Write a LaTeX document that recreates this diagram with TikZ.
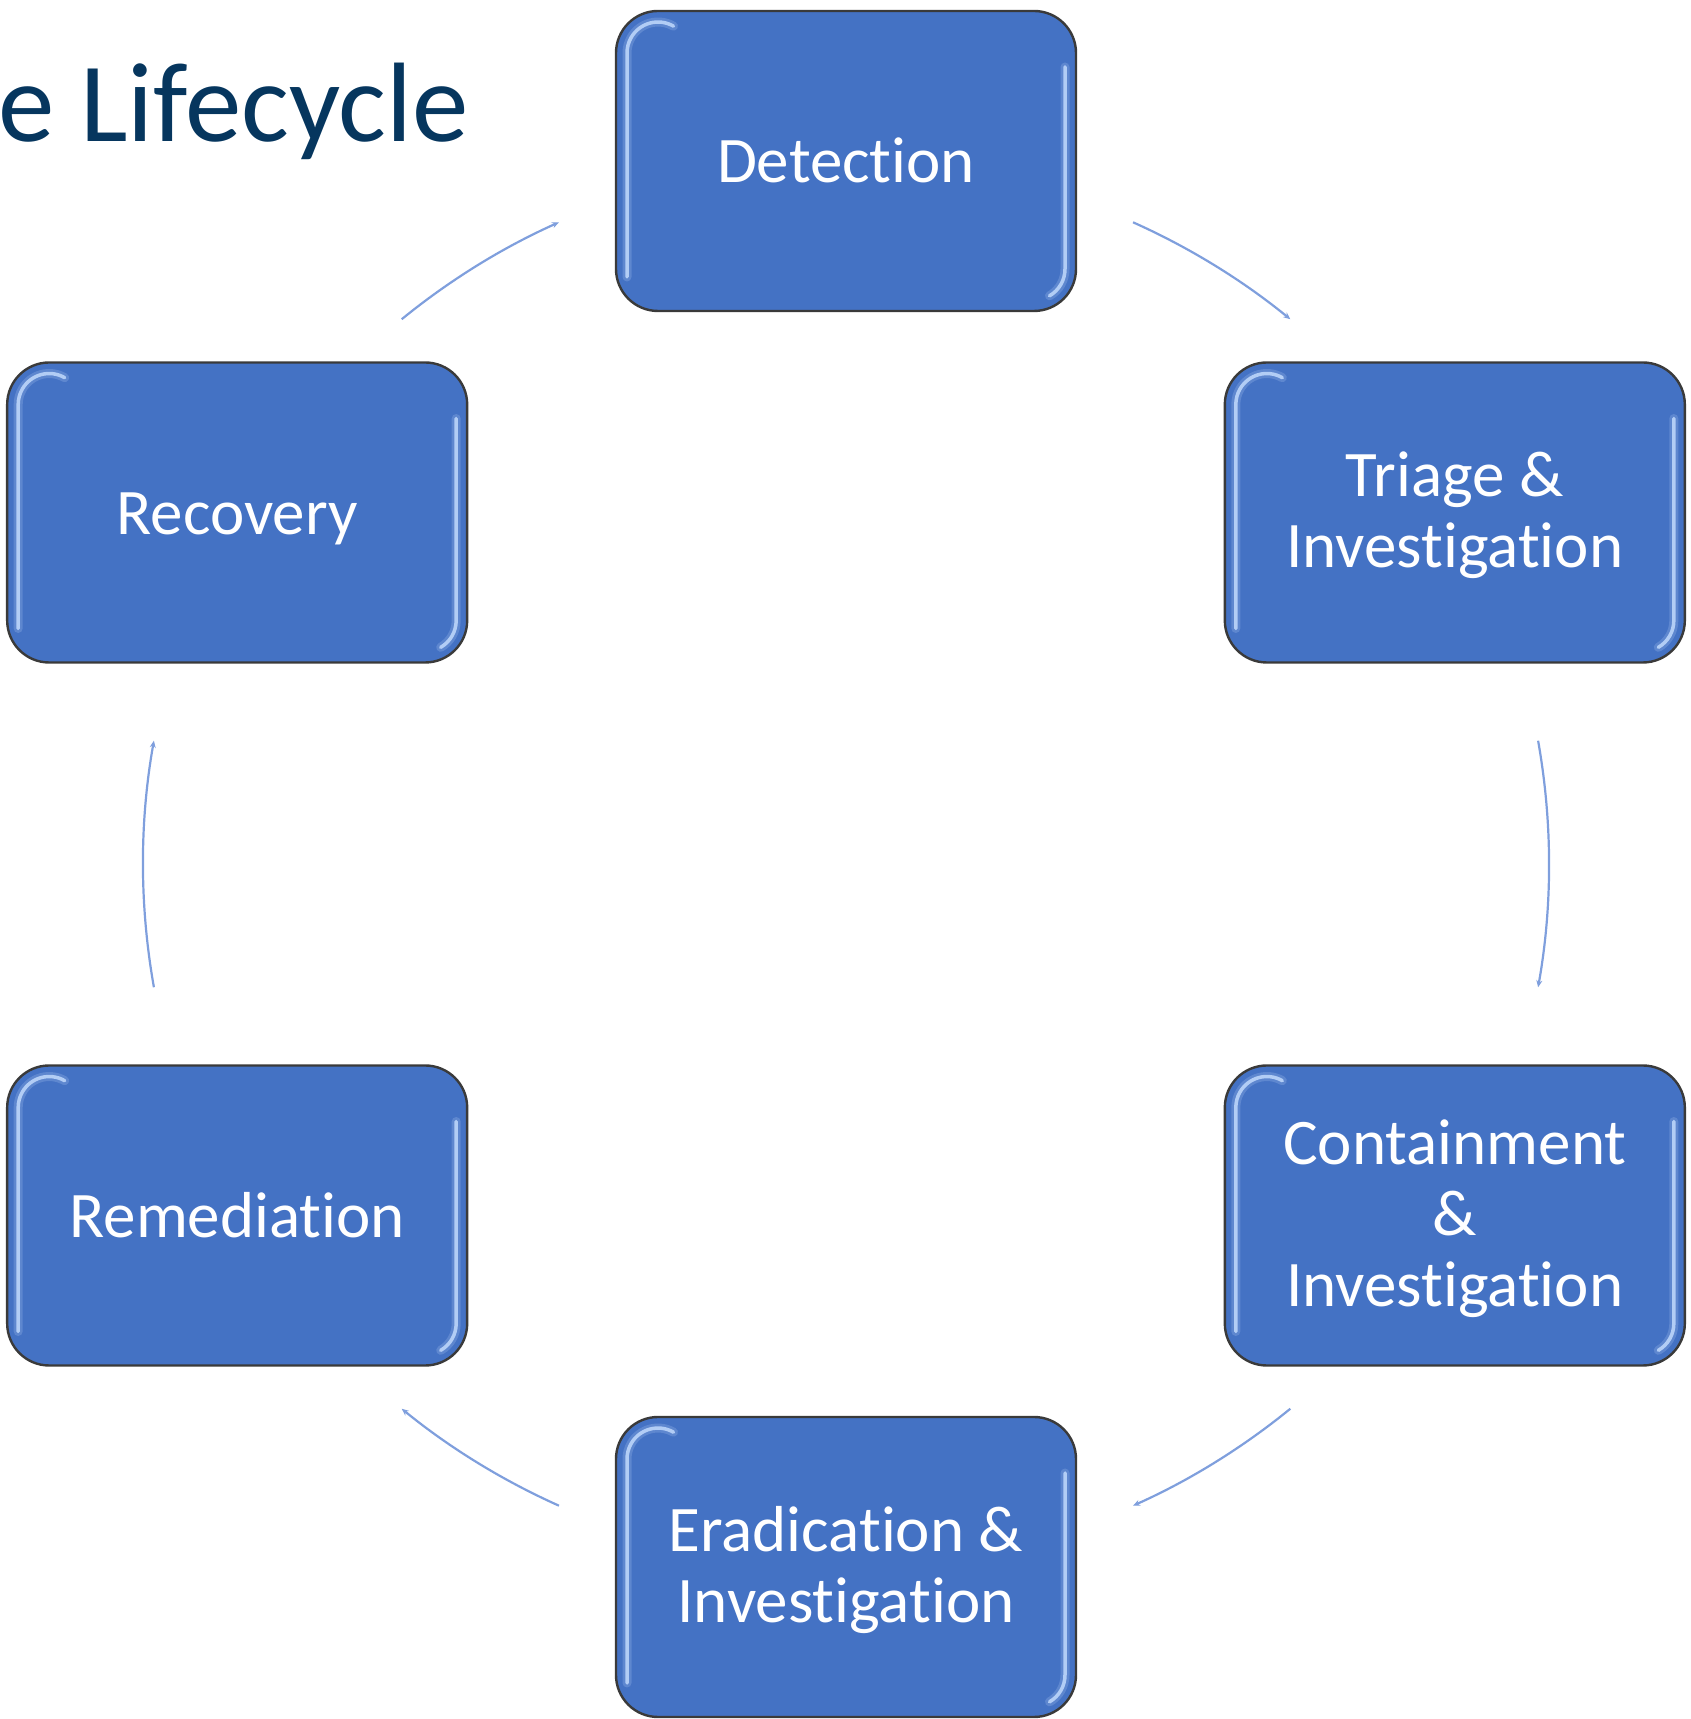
\documentclass[tikz,border=0pt]{standalone}
\usepackage{fontspec}
\setmainfont{Carlito}[Ligatures={NoCommon}]
\usetikzlibrary{arrows.meta}
\definecolor{boxblue}{HTML}{4472C4}
\definecolor{boxedge}{HTML}{3A3A3A}
\definecolor{shine}{HTML}{BCD5FA}
\definecolor{flow}{HTML}{7F9FDD}
\definecolor{titlenavy}{HTML}{06365E}
% extra room above the first line of a multi-line label
\newcommand\firstlinestrut{\rule{0pt}{56pt}}
\tikzset{
  bevel/.style={sharp corners, shine, line cap=round},
  phase/.style={draw=boxedge, line width=2.4pt, fill=boxblue, rounded corners=42pt,
    minimum width=460pt, minimum height=300pt, text=white, align=center,
    font=\fontsize{65}{71}\selectfont, inner sep=0pt, outer sep=0pt,
    execute at begin node={\rule{0pt}{60pt}},
    execute at end node={\rule[-16pt]{0pt}{0pt}},
    path picture={
      % glossy bevel along the left edge and top-left corner
      \foreach \w/\o in {9pt/.22, 3.5pt/.9}{
        \draw[bevel, line width=\w, opacity=\o]
          ([shift={(57.5pt,-15.2pt)}]path picture bounding box.north west)
          arc[start angle=60, end angle=180, radius=31pt]
          -- ([shift={(11pt,34pt)}]path picture bounding box.south west);
        % and along the right edge and bottom-right corner
        \draw[bevel, line width=\w, opacity=\o]
          ([shift={(-11pt,-56pt)}]path picture bounding box.north east)
          -- ([shift={(-11pt,42pt)}]path picture bounding box.south east)
          arc[start angle=0, end angle=-60, radius=31pt];
      }
    }},
  flowarc/.style={draw=flow, line width=2.2pt, -{Stealth[length=7pt,width=6pt]}}
}
\begin{document}
\begin{tikzpicture}[x=1pt,y=1pt]
\path[use as bounding box, clip] (0,0) rectangle (1691,1719);

% heading, running off the left margin
\node[anchor=base east, text=titlenavy, font=\fontsize{113}{118}\selectfont, inner sep=0pt]
  (title) at (469,1577) {e Lifecycle};

\coordinate (C) at (846,855);

\begin{scope}[shift={(C)}]
  % the six phases on a circle
  \node[phase] (det) at (90:703)   {Detection};
  \node[phase] (tri) at (30:703)   {\firstlinestrut Triage \&\\Investigation};
  \node[phase] (con) at (-30:703)  {\firstlinestrut Containment\\\&\\Investigation};
  \node[phase] (era) at (-90:703)  {\firstlinestrut Eradication \&\\Investigation};
  \node[phase] (rem) at (-150:703) {Remediation};
  \node[phase] (rec) at (150:703)  {Recovery};

  % arc end points between the phases
  \coordinate (a1) at (65.9:703);
  \coordinate (a2) at (10.1:703);
  \coordinate (a3) at (-50.8:703);
  \coordinate (a4) at (-114.1:703);
  \coordinate (a5) at (-169.9:703);
  \coordinate (a6) at (129.2:703);

  % clockwise flow around the cycle
  \draw[flowarc] (a1) arc[start angle=65.9,   end angle=50.8,   radius=703];
  \draw[flowarc] (a2) arc[start angle=10.1,   end angle=-10.1,  radius=703];
  \draw[flowarc] (a3) arc[start angle=-50.8,  end angle=-65.9,  radius=703];
  \draw[flowarc] (a4) arc[start angle=-114.1, end angle=-129.2, radius=703];
  \draw[flowarc] (a5) arc[start angle=-169.9, end angle=-190.1, radius=703];
  \draw[flowarc] (a6) arc[start angle=129.2,  end angle=114.1,  radius=703];
\end{scope}
\end{tikzpicture}
\end{document}
